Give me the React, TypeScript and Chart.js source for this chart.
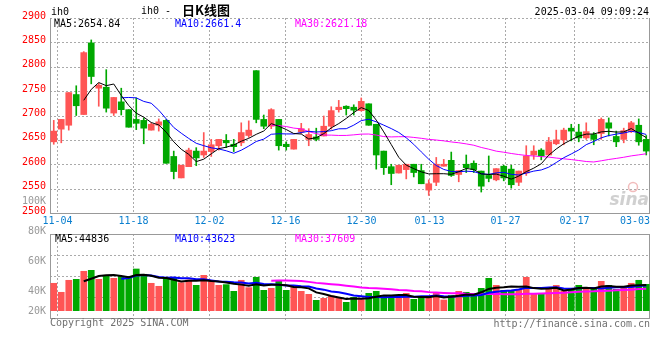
import React, { useEffect, useRef } from "react";
import { Chart, registerables } from "chart.js";

Chart.register(...registerables);

// ---------- data ----------
const DATES = [
  "11-01", "11-04", "11-05", "11-06", "11-07", "11-08", "11-11", "11-12", "11-13", "11-14", "11-15",
  "11-18", "11-19", "11-20", "11-21", "11-22", "11-25", "11-26", "11-27", "11-28", "11-29",
  "12-02", "12-03", "12-04", "12-05", "12-06", "12-09", "12-10", "12-11", "12-12", "12-13",
  "12-16", "12-17", "12-18", "12-19", "12-20", "12-23", "12-24", "12-25", "12-26", "12-27",
  "12-30", "12-31", "01-02", "01-03", "01-06", "01-07", "01-08", "01-09", "01-10",
  "01-13", "01-14", "01-15", "01-16", "01-17", "01-20", "01-21", "01-22", "01-23", "01-24",
  "01-27", "02-05", "02-06", "02-07", "02-10", "02-11", "02-12", "02-13", "02-14",
  "02-17", "02-18", "02-19", "02-20", "02-21", "02-24", "02-25", "02-26", "02-27", "02-28",
  "03-03",
];

const OPEN = [
  2646, 2672, 2680, 2743, 2702, 2849, 2756, 2758, 2705, 2728,
  2712, 2692, 2690, 2670, 2680, 2690, 2616, 2572, 2595, 2627,
  2619, 2626, 2638, 2649, 2641, 2644, 2659, 2792, 2692, 2678,
  2692, 2641, 2631, 2666, 2651, 2656, 2658, 2678, 2712, 2719,
  2717, 2710, 2724, 2682, 2627, 2595, 2582, 2589, 2600, 2587,
  2547, 2563, 2596, 2608, 2579, 2600, 2602, 2586, 2577, 2568,
  2596, 2590, 2563, 2582, 2619, 2629, 2619, 2642, 2650, 2674,
  2666, 2654, 2661, 2663, 2685, 2657, 2651, 2667, 2680, 2651,
];
const HIGH = [
  2690, 2692, 2747, 2761, 2831, 2855, 2766, 2794, 2737, 2756,
  2712, 2736, 2695, 2685, 2693, 2692, 2627, 2598, 2633, 2634,
  2665, 2651, 2651, 2661, 2651, 2685, 2689, 2792, 2701, 2714,
  2692, 2646, 2651, 2684, 2673, 2674, 2699, 2718, 2731, 2720,
  2722, 2736, 2724, 2682, 2627, 2600, 2598, 2600, 2600, 2600,
  2568, 2614, 2610, 2625, 2587, 2619, 2607, 2586, 2617, 2591,
  2598, 2598, 2586, 2638, 2638, 2632, 2655, 2670, 2674, 2682,
  2682, 2685, 2665, 2695, 2695, 2668, 2674, 2688, 2693, 2659,
];
const LOW = [
  2641, 2644, 2670, 2700, 2702, 2765, 2719, 2707, 2700, 2701,
  2676, 2671, 2642, 2670, 2668, 2602, 2570, 2572, 2595, 2597,
  2614, 2616, 2629, 2634, 2626, 2638, 2655, 2685, 2673, 2673,
  2629, 2629, 2631, 2663, 2638, 2648, 2658, 2672, 2707, 2701,
  2701, 2709, 2680, 2590, 2579, 2558, 2582, 2570, 2574, 2560,
  2536, 2556, 2596, 2575, 2564, 2583, 2583, 2543, 2564, 2566,
  2566, 2551, 2556, 2577, 2610, 2609, 2619, 2640, 2640, 2648,
  2646, 2651, 2640, 2651, 2658, 2636, 2644, 2665, 2639, 2619,
];
const CLOSE = [
  2668, 2692, 2747, 2720, 2829, 2780, 2762, 2715, 2737, 2712,
  2676, 2684, 2674, 2682, 2687, 2602, 2585, 2598, 2629, 2613,
  2627, 2640, 2651, 2644, 2636, 2665, 2670, 2692, 2678, 2712,
  2638, 2636, 2651, 2673, 2661, 2651, 2678, 2710, 2717, 2714,
  2711, 2729, 2680, 2619, 2593, 2581, 2598, 2600, 2583, 2560,
  2560, 2600, 2600, 2577, 2587, 2593, 2589, 2555, 2571, 2591,
  2572, 2558, 2586, 2617, 2627, 2617, 2646, 2650, 2670, 2668,
  2654, 2667, 2651, 2692, 2674, 2646, 2669, 2685, 2646, 2627,
];
const VOLUME = [
  48000, 32400, 53200, 54900, 68800, 70500, 54900, 61300, 56600, 60100,
  60100, 72800, 63600, 48000, 42800, 57800, 57800, 49100, 53800, 44500,
  61800, 50900, 44500, 45700, 34100, 53200, 40500, 58400, 35800, 39300,
  53200, 35800, 43900, 34100, 28900, 18500, 22000, 26000, 22000, 15000,
  23700, 19700, 30600, 34100, 27200, 23700, 22000, 30600, 20200, 25400,
  22000, 30600, 19100, 27200, 34100, 32400, 28900, 39300, 56600, 44500,
  35800, 35800, 37600, 58400, 30600, 30600, 37600, 44500, 34100, 39300,
  44500, 39300, 37600, 51400, 44500, 37600, 39300, 48000, 53200, 46200,
];

const LABEL_DATES = ["11-04", "11-18", "12-02", "12-16", "12-30", "01-13", "01-27", "02-17", "03-03"];
const PRICE_TICKS = [2900, 2850, 2800, 2750, 2700, 2650, 2600, 2550, 2500];
const VOL_TICK_VALUES = [100000, 80000, 60000, 40000, 20000];
const VOL_TICK_LABELS = ["100K", "80K", "60K", "40K", "20K"];

const SYMBOL = "ih0";
const TITLE_PREFIX = "ih0 -";
const TITLE_CN = "日K线图";
const TIMESTAMP = "2025-03-04 09:09:24";
const PRICE_MA_TEXT = ["MA5:2654.84", "MA10:2661.4", "MA30:2621.18"];
const VOL_MA_TEXT = ["MA5:44836", "MA10:43623", "MA30:37609"];
const COPYRIGHT = "Copyright 2025 SINA.COM";
const SITE = "http://finance.sina.com.cn";

// ---------- helpers ----------
function movingAverage(values: number[], n: number): (number | null)[] {
  return values.map((_, i) => {
    if (i < n - 1) return null;
    let s = 0;
    for (let j = i - n + 1; j <= i; j++) s += values[j];
    return s / n;
  });
}

const UP = "#ff5555";
const DOWN = "#00a800";
const MA_COLORS = ["#000000", "#0000ff", "#ff00ff"];
const GRID = "#aaaaaa";
const AXIS = "#999999";
const MONO = "10px 'DejaVu Sans Mono', monospace";

const candleColors = CLOSE.map((c, i) => (c >= OPEN[i] ? UP : DOWN));

function seg(ctx: CanvasRenderingContext2D, x1: number, y1: number, x2: number, y2: number) {
  ctx.beginPath();
  ctx.moveTo(x1, y1);
  ctx.lineTo(x2, y2);
  ctx.stroke();
}

function labelIndexPixels(chart: any): number[] {
  const xg = chart.scales.xg;
  return LABEL_DATES.map((d) => xg.getPixelForValue(DATES.indexOf(d)));
}

const pricePlugin = {
  id: "pricePanel",
  beforeDatasetsDraw(chart: any) {
    const { ctx, chartArea: a, scales } = chart;
    const y = scales.y;
    ctx.save();
    ctx.lineWidth = 1;
    ctx.strokeStyle = GRID;
    ctx.setLineDash([2, 2]);
    PRICE_TICKS.forEach((v) => {
      if (v <= y.min) return;
      const py = Math.round(y.getPixelForValue(v)) + 0.5;
      seg(ctx, a.left, py, a.right, py);
    });
    labelIndexPixels(chart).forEach((px) => {
      if (px >= a.right - 1) return;
      const x = Math.floor(px) + 0.5;
      seg(ctx, x, a.top, x, a.bottom);
    });
    ctx.setLineDash([]);
    ctx.strokeStyle = AXIS;
    seg(ctx, a.left + 0.5, a.top, a.left + 0.5, a.bottom + 1);
    seg(ctx, a.left, a.bottom + 0.5, a.right, a.bottom + 0.5);
    seg(ctx, a.right - 0.5, a.top, a.right - 0.5, a.bottom + 1);

    // watermark
    ctx.fillStyle = "rgba(200,200,200,0.85)";
    ctx.font = "italic bold 17px 'DejaVu Sans', sans-serif";
    ctx.textAlign = "right";
    ctx.textBaseline = "alphabetic";
    ctx.fillText("sina", a.right - 1, a.bottom - 8);
    ctx.strokeStyle = "rgba(235,160,160,0.7)";
    ctx.lineWidth = 1.5;
    ctx.beginPath();
    ctx.arc(a.right - 17, a.bottom - 26, 4.5, 0, Math.PI * 2);
    ctx.stroke();
    ctx.restore();
  },
  afterDraw(chart: any) {
    const { ctx, chartArea: a, scales } = chart;
    const y = scales.y;
    ctx.save();
    ctx.font = MONO;
    ctx.textBaseline = "middle";
    ctx.fillStyle = "#ff0000";
    ctx.textAlign = "right";
    PRICE_TICKS.forEach((v) => {
      ctx.fillText(String(v), a.left - 4, y.getPixelForValue(v) - 2);
    });
    ctx.textAlign = "left";
    ctx.fillStyle = "#000";
    ctx.fillText(SYMBOL, a.left + 1, 12);
    ctx.fillText(TITLE_PREFIX, 141, 11);
    ctx.font = "bold 13px 'Noto Sans CJK SC', sans-serif";
    ctx.fillText(TITLE_CN, 182, 10);
    ctx.font = MONO;
    ctx.textAlign = "right";
    ctx.fillText(TIMESTAMP, a.right - 1, 12);
    ctx.textAlign = "left";
    const maX = [a.left + 4, a.left + 125, a.left + 245];
    PRICE_MA_TEXT.forEach((t, i) => {
      ctx.fillStyle = MA_COLORS[i];
      ctx.fillText(t, maX[i], a.top + 6);
    });
    ctx.fillStyle = "#0a7fcf";
    ctx.textAlign = "center";
    labelIndexPixels(chart).forEach((px, i) => {
      const t = LABEL_DATES[i];
      const w = ctx.measureText(t).width;
      const cx = Math.min(Math.floor(px) + 0.5, a.right - w / 2);
      ctx.fillText(t, cx, a.bottom + 8);
    });
    ctx.restore();
  },
};

const volumePlugin = {
  id: "volumePanel",
  beforeDatasetsDraw(chart: any) {
    const { ctx, chartArea: a } = chart;
    const top = a.top;
    const bottom = a.bottom + 7;
    ctx.save();
    ctx.lineWidth = 1;
    ctx.strokeStyle = GRID;
    ctx.setLineDash([2, 2]);
    for (let k = 1; k <= 3; k++) {
      const py = Math.round(top + ((bottom - top) * k) / 4) + 0.5;
      seg(ctx, a.left, py, a.right, py);
    }
    labelIndexPixels(chart).forEach((px) => {
      if (px >= a.right - 1) return;
      const x = Math.floor(px) + 0.5;
      seg(ctx, x, top, x, bottom + 3);
    });
    ctx.setLineDash([]);
    ctx.strokeStyle = AXIS;
    ctx.strokeRect(a.left + 0.5, top + 0.5, a.right - a.left - 1, bottom - top);
    ctx.restore();
  },
  afterDraw(chart: any) {
    const { ctx, chartArea: a, scales } = chart;
    const yl = scales.yl;
    ctx.save();
    ctx.font = MONO;
    ctx.textBaseline = "middle";
    ctx.textAlign = "right";
    ctx.fillStyle = "#999999";
    VOL_TICK_VALUES.forEach((v, i) => {
      const py = Math.min(yl.getPixelForValue(v), a.bottom);
      ctx.fillText(VOL_TICK_LABELS[i], a.left - 4, py);
    });
    ctx.textAlign = "left";
    const maX = [a.left + 5, a.left + 125, a.left + 245];
    VOL_MA_TEXT.forEach((t, i) => {
      ctx.fillStyle = MA_COLORS[i];
      ctx.fillText(t, maX[i], a.top + 5);
    });
    ctx.fillStyle = "#707070";
    ctx.fillText(COPYRIGHT, a.left, a.bottom + 12);
    ctx.textAlign = "right";
    ctx.fillText(SITE, a.right, a.bottom + 13);
    ctx.restore();
  },
};

const baseOptions = (padding: any, yScales: any) => ({
  animation: false as const,
  responsive: false,
  maintainAspectRatio: false,
  devicePixelRatio: 1,
  events: [] as any[],
  layout: { padding },
  plugins: { legend: { display: false }, tooltip: { enabled: false }, title: { display: false } },
  scales: {
    x: { type: "category" as const, offset: true, display: false, grid: { offset: true } },
    xg: { type: "linear" as const, axis: "x" as const, min: 0, max: DATES.length - 1, offset: false, display: false },
    ...yScales,
  },
});

export default function App() {
  const priceRef = useRef<HTMLCanvasElement>(null);
  const volRef = useRef<HTMLCanvasElement>(null);

  useEffect(() => {
    const ma = [5, 10, 30].map((n) => movingAverage(CLOSE, n));
    const vma = [5, 10, 30].map((n) => movingAverage(VOLUME, n));

    const priceChart = new Chart(priceRef.current as HTMLCanvasElement, {
      type: "bar",
      data: {
        labels: DATES,
        datasets: [
          ...ma.map((d, i) => ({
            type: "line" as const,
            data: d,
            borderColor: MA_COLORS[i],
            borderWidth: 1,
            pointRadius: 0,
            tension: 0,
            order: 0,
            xAxisID: "x",
            yAxisID: "y",
          })),
          {
            type: "bar" as const,
            data: LOW.map((l, i) => [l, HIGH[i]]),
            backgroundColor: candleColors,
            barThickness: 1,
            grouped: false,
            order: 2,
            xAxisID: "x",
            yAxisID: "y",
          },
          {
            type: "bar" as const,
            data: OPEN.map((o, i) => [Math.min(o, CLOSE[i]), Math.max(o, CLOSE[i])]),
            backgroundColor: candleColors,
            barThickness: 6,
            minBarLength: 1,
            grouped: false,
            order: 1,
            xAxisID: "x",
            yAxisID: "y",
          },
        ] as any,
      },
      options: baseOptions(
        { left: 50, right: 10, top: 18, bottom: 147 },
        { y: { type: "linear", min: 2500, max: 2900, beginAtZero: false, display: false } }
      ) as any,
      plugins: [pricePlugin],
    });

    const volChart = new Chart(volRef.current as HTMLCanvasElement, {
      type: "bar",
      data: {
        labels: DATES,
        datasets: [
          ...vma.map((d, i) => ({
            type: "line" as const,
            data: d,
            borderColor: MA_COLORS[i],
            borderWidth: 2,
            pointRadius: 0,
            tension: 0,
            order: 0,
            xAxisID: "x",
            yAxisID: "y",
          })),
          {
            type: "bar" as const,
            data: VOLUME,
            backgroundColor: candleColors,
            barThickness: 6,
            grouped: false,
            order: 1,
            xAxisID: "x",
            yAxisID: "y",
          },
        ] as any,
      },
      options: baseOptions(
        { left: 50, right: 10, top: 234, bottom: 49 },
        {
          y: { type: "linear", min: 0, max: 133400, display: false },
          yl: { type: "linear", axis: "y", min: 26667, max: 78000, display: false },
        }
      ) as any,
      plugins: [volumePlugin],
    });

    return () => {
      priceChart.destroy();
      volChart.destroy();
    };
  }, []);

  const cs: React.CSSProperties = { position: "absolute", left: 0, top: 0, width: 660, height: 360 };
  return (
    <div style={{ position: "fixed", left: 0, top: 0, width: 660, height: 360, background: "#ffffff" }}>
      <canvas ref={priceRef} width={660} height={360} style={cs} />
      <canvas ref={volRef} width={660} height={360} style={cs} />
    </div>
  );
}
